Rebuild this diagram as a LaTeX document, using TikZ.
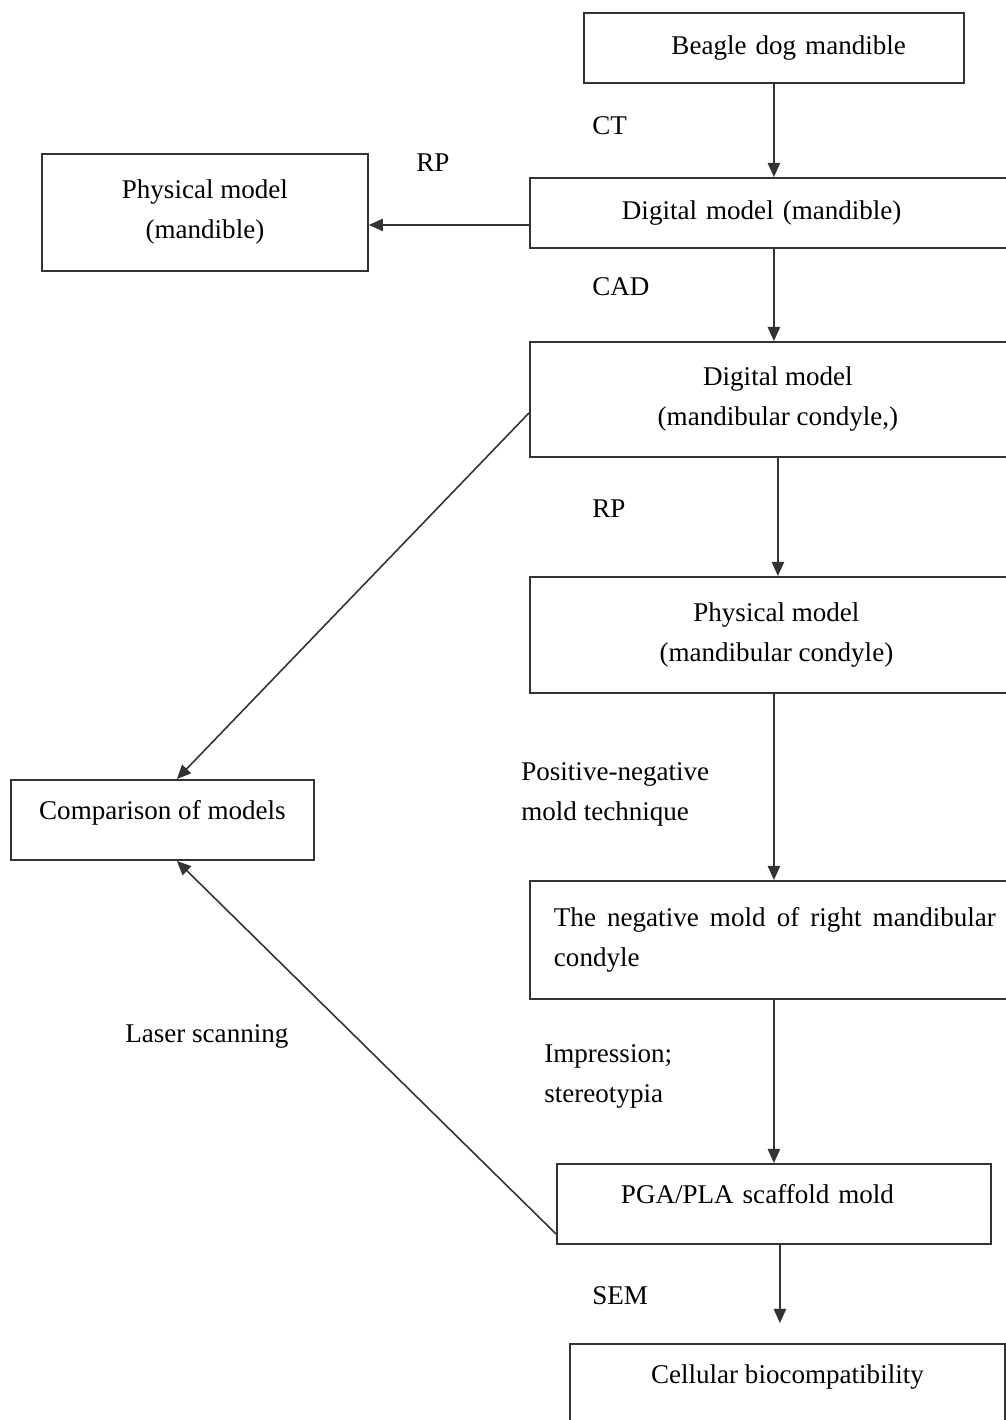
\documentclass[tikz,border=0pt]{standalone}
\usepackage{fontspec}
\setmainfont{Liberation Serif}
\usepackage{xcolor}
\usepackage{tikz}
\usetikzlibrary{arrows.meta}
\usetikzlibrary{positioning}

\definecolor{linegray}{HTML}{333333}

\begin{document}
\begin{tikzpicture}[
	x=0.02cm, y=-0.02cm,
	font=\fontsize{15.4pt}{22.8pt}\selectfont
]
\tikzset{
    flowbox/.style = {rectangle, draw=linegray, line width=1.1pt, anchor=north west, inner ysep=0pt},
    flowarrow/.style = {draw=linegray, line width=0.9pt, -{Triangle[length=8pt,width=7pt]}},
    steplabel/.style = {anchor=base west, inner sep=0pt}
}
\useasboundingbox (0,0) rectangle (1006,1420);
\clip (0,0) rectangle (1006,1420);

\node[flowbox,minimum width=7.6cm,minimum height=1.4cm,text width=5.28cm,inner xsep=1.16cm,align=right] (beagle) at (583,12) {Beagle dog mandible};
\node[flowbox,minimum height=1.4cm,text width=5.98cm,inner xsep=1.84cm,align=left] (dmand) at (529,177) {Digital model (mandible)};
\node[flowbox,minimum width=6.52cm,minimum height=2.34cm,align=center] (pmand) at (41,153) {Physical model\\(mandible)};
\node[flowbox,minimum width=9.92cm,minimum height=2.3cm,align=center] (dcond) at (529,341) {Digital model\\(mandibular condyle,)};
\node[flowbox,minimum width=9.86cm,minimum height=2.32cm,align=center] (pcond) at (529,576) {Physical model\\(mandibular condyle)};
\node[flowbox,minimum width=6.06cm,minimum height=1.6cm,text depth=11pt] (comp) at (10,779) {Comparison of models};
\node[flowbox,minimum height=2.36cm,text width=8.84cm,inner xsep=0.48cm,align=justify] (neg) at (529,880) {\hyphenpenalty=10000 \tolerance=10000 The negative mold of right mandibular condyle};
\node[flowbox,minimum height=1.6cm,text width=6.12cm,inner xsep=1.28cm,align=left,text depth=11pt] (pga) at (556,1163) {PGA/PLA scaffold mold};
\node[flowbox,minimum width=8.7cm,minimum height=1.6cm,text depth=11pt] (cell) at (569,1343) {Cellular biocompatibility};

% steps down the right column
\draw[flowarrow] (beagle.south) -- (beagle.south |- dmand.north);
\draw[flowarrow] ([yshift=-0.24cm]dmand.west) -- ([yshift=-0.24cm]dmand.west -| pmand.east);
\draw[flowarrow] (dmand.south -| beagle.south) -- (dcond.north -| beagle.south);
\draw[flowarrow] (dcond.south) -- (dcond.south |- pcond.north);
\draw[flowarrow] (pcond.south -| beagle.south) -- (neg.north -| beagle.south);
\draw[flowarrow] (neg.south -| pga.north) -- (pga.north);
\draw[flowarrow] ([xshift=0.12cm]pga.south) -- ([xshift=0.12cm,yshift=0.4cm]pga.south |- cell.north);

% comparison
\draw[flowarrow] ([yshift=-0.27cm]dcond.west) -- ([xshift=0.29cm]comp.north);
\draw[flowarrow] ([yshift=0.22cm]pga.south west) -- ([xshift=0.29cm]comp.south);

\node[steplabel] (ct) at (592,134) {CT};
\node[steplabel] (rp-top) at (416,171) {RP};
\node[steplabel] (cad) at (592,295) {CAD};
\node[steplabel] (rp-mid) at (592,517) {RP};
\node[anchor=west,inner sep=0pt,align=left] (posneg) at (521,794) {Positive-negative\\mold technique};
\node[steplabel] (laser) at (125,1042) {Laser scanning};
\node[anchor=west,inner sep=0pt,align=left] (impr) at (544,1076) {Impression;\\stereotypia};
\node[steplabel] (sem) at (592,1304) {SEM};
\end{tikzpicture}
\end{document}
